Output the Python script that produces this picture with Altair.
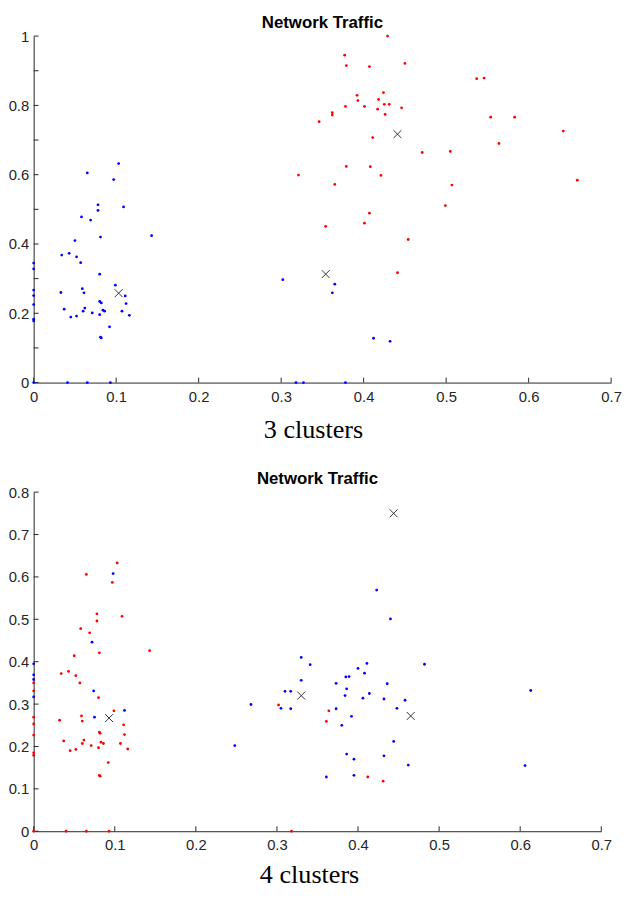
import altair as alt
import pandas as pd

# ---------------- Panel 1: 3 clusters ----------------
p1_blue_x = [0.078, 0.078, 0.109, 0.058, 0.069, 0.081, 0.143, 0.050, 0.034, 0.043,
             0.052, 0.057, 0.080, 0.099, 0.033, 0.059, 0.061, 0.080, 0.082, 0.111,
             0.112, 0.037, 0.062, 0.060, 0.045, 0.052, 0.071, 0.080, 0.084, 0.086,
             0.107, 0.116, 0.092, 0.081, 0.082, 0.065, 0.097, 0.103,
             0.0, 0.0, 0.0, 0.0, 0.0, 0.0, 0.0, 0.0,
             0.041, 0.065, 0.093, 0.318, 0.327, 0.378,
             0.302, 0.365, 0.362, 0.412, 0.432]
p1_blue_y = [0.513, 0.497, 0.507, 0.478, 0.469, 0.420, 0.424, 0.410, 0.368, 0.373,
             0.363, 0.346, 0.313, 0.281, 0.260, 0.271, 0.259, 0.234, 0.230, 0.250,
             0.228, 0.212, 0.215, 0.206, 0.189, 0.192, 0.201, 0.196, 0.209, 0.206,
             0.206, 0.194, 0.161, 0.131, 0.129, 0.605, 0.586, 0.632,
             0.345, 0.328, 0.267, 0.251, 0.225, 0.183, 0.178, 0.0,
             0.0, 0.0, 0.0, 0.0, 0.0, 0.0,
             0.297, 0.284, 0.259, 0.128, 0.119]
p1_red_x = [0.429, 0.377, 0.379, 0.407, 0.450, 0.537, 0.546, 0.392, 0.424, 0.393,
            0.418, 0.378, 0.401, 0.425, 0.431, 0.417, 0.446, 0.426, 0.362, 0.362,
            0.346, 0.554, 0.583, 0.642, 0.411, 0.564, 0.471, 0.505, 0.379, 0.408,
            0.321, 0.421, 0.659, 0.365, 0.507, 0.499, 0.407, 0.354, 0.401, 0.454,
            0.441]
p1_red_y = [1.000, 0.945, 0.915, 0.912, 0.921, 0.877, 0.879, 0.829, 0.837, 0.814,
            0.817, 0.797, 0.797, 0.803, 0.803, 0.789, 0.793, 0.774, 0.779, 0.772,
            0.753, 0.766, 0.766, 0.726, 0.707, 0.690, 0.664, 0.667, 0.624, 0.623,
            0.599, 0.598, 0.584, 0.572, 0.570, 0.511, 0.489, 0.451, 0.460, 0.413,
            0.317]
p1_cent_x = [0.103, 0.441, 0.354]
p1_cent_y = [0.258, 0.717, 0.313]

# ---------------- Panel 2: 4 clusters ----------------
p2_red_x = [0.050, 0.081, 0.143, 0.034, 0.043, 0.052, 0.057, 0.080, 0.099, 0.032,
            0.059, 0.060, 0.081, 0.082, 0.111, 0.112, 0.037, 0.062, 0.060, 0.045,
            0.052, 0.071, 0.080, 0.083, 0.086, 0.107, 0.116, 0.092, 0.081, 0.082,
            0.0, 0.0, 0.0, 0.0, 0.0, 0.0, 0.0, 0.0,
            0.040, 0.065, 0.093, 0.318,
            0.302, 0.065, 0.103, 0.097, 0.078, 0.078, 0.109, 0.058, 0.069,
            0.364, 0.361, 0.412, 0.431]
p2_red_y = [0.414, 0.421, 0.426, 0.372, 0.377, 0.367, 0.350, 0.315, 0.284, 0.262,
            0.272, 0.260, 0.234, 0.231, 0.251, 0.228, 0.213, 0.215, 0.207, 0.190,
            0.193, 0.202, 0.197, 0.210, 0.207, 0.207, 0.194, 0.162, 0.132, 0.130,
            0.350, 0.331, 0.269, 0.253, 0.227, 0.185, 0.179, 0.0,
            0.0, 0.0, 0.0, 0.0,
            0.298, 0.606, 0.633, 0.587, 0.513, 0.496, 0.507, 0.478, 0.468,
            0.284, 0.259, 0.128, 0.118]
p2_blue_x = [0.0, 0.0, 0.0, 0.0,
             0.074, 0.075, 0.112, 0.098, 0.072,
             0.248, 0.268, 0.305, 0.310, 0.317, 0.317, 0.330, 0.330, 0.341,
             0.423, 0.440,
             0.400, 0.411, 0.482, 0.408, 0.385, 0.389, 0.373, 0.436, 0.386, 0.384,
             0.414, 0.406, 0.432, 0.458, 0.613, 0.373, 0.448, 0.392, 0.380, 0.444,
             0.386, 0.395, 0.432, 0.462, 0.606, 0.361, 0.395]
p2_blue_y = [0.395, 0.369, 0.358, 0.317,
             0.331, 0.269, 0.285, 0.608, 0.446,
             0.202, 0.299, 0.290, 0.330, 0.330, 0.289, 0.410, 0.356, 0.393,
             0.569, 0.501,
             0.384, 0.396, 0.394, 0.373, 0.364, 0.365, 0.349, 0.348, 0.336, 0.320,
             0.325, 0.314, 0.312, 0.309, 0.332, 0.289, 0.290, 0.271, 0.250, 0.212,
             0.182, 0.170, 0.178, 0.156, 0.155, 0.128, 0.132]
p2_cent_x = [0.093, 0.330, 0.465, 0.444]
p2_cent_y = [0.267, 0.320, 0.272, 0.750]

x_ticks = [0, 0.1, 0.2, 0.3, 0.4, 0.5, 0.6, 0.7]
p1_y_ticks = [0, 0.1, 0.2, 0.3, 0.4, 0.5, 0.6, 0.7, 0.8, 0.9, 1.0]
p2_y_ticks = [0, 0.1, 0.2, 0.3, 0.4, 0.5, 0.6, 0.7, 0.8]
captions = ["3 clusters", "4 clusters"]
title_text = "Network Traffic"

AX = "#262626"


def panel(bx, by, rx, ry, cx, cy, yticks, ymax, w, h, caption, title_x, cap_pad):
    pts = pd.DataFrame({"x": bx + rx, "y": by + ry,
                        "c": ["b"] * len(bx) + ["r"] * len(rx)})
    cents = pd.DataFrame({"x": cx, "y": cy})
    xt = pd.DataFrame({"x": x_ticks})
    yt = pd.DataFrame({"y": yticks})
    xs = alt.Scale(domain=[0, 0.7], nice=False, zero=False)
    ys = alt.Scale(domain=[0, ymax], nice=False, zero=False)

    xaxis = alt.Axis(values=x_ticks, format="~g", ticks=False, grid=False,
                     domainColor=AX, domainWidth=1,
                     labelFont="Liberation Sans", labelFontSize=15, labelColor=AX,
                     labelPadding=7, labelFlush=False, labelOverlap=False,
                     title=caption, titleFont="Liberation Serif", titleFontSize=26.5,
                     titleFontWeight="normal", titleColor="black", titlePadding=cap_pad,
                     titleX=title_x)
    yaxis = alt.Axis(values=yticks, format="~g", ticks=False, grid=False,
                     domainColor=AX, domainWidth=1,
                     labelFont="Liberation Sans", labelFontSize=15, labelColor=AX,
                     labelPadding=5, labelFlush=False, labelOverlap=False,
                     title=None)

    base_pts = alt.Chart(pts).mark_circle(size=8, opacity=1).encode(
        x=alt.X("x:Q", scale=xs, axis=xaxis),
        y=alt.Y("y:Q", scale=ys, axis=yaxis),
        color=alt.Color("c:N", scale=alt.Scale(domain=["b", "r"],
                                               range=["#0000FF", "#FF0000"]),
                        legend=None),
    )
    cent = alt.Chart(cents).mark_point(
        shape="M-1,-1L1,1M-1,1L1,-1", size=64, filled=False,
        color="#333333", strokeWidth=1, opacity=1
    ).encode(
        x=alt.X("x:Q", scale=xs),
        y=alt.Y("y:Q", scale=ys),
    )
    xtick = alt.Chart(xt).mark_rule(color=AX, strokeWidth=1).encode(
        x=alt.X("x:Q", scale=xs),
        y=alt.value(h), y2=alt.value(h - 5),
    )
    ytick = alt.Chart(yt).mark_rule(color=AX, strokeWidth=1).encode(
        y=alt.Y("y:Q", scale=ys),
        x=alt.value(0), x2=alt.value(5),
    )
    return alt.layer(xtick, ytick, base_pts, cent).properties(
        width=w, height=h,
        title=alt.TitleParams(text=title_text, font="Liberation Sans",
                              fontSize=17, fontWeight="bold", color="black",
                              offset=-3, anchor="middle", frame="group"),
    )


p1 = panel(p1_blue_x, p1_blue_y, p1_red_x, p1_red_y, p1_cent_x, p1_cent_y,
           p1_y_ticks, 1.0, 585, 351, captions[0], 283, 12.5)
p2 = panel(p2_blue_x, p2_blue_y, p2_red_x, p2_red_y, p2_cent_x, p2_cent_y,
           p2_y_ticks, 0.8, 575, 343.5, captions[1], 279, 9)

chart = alt.vconcat(p1, p2, spacing=28).properties(
    padding={"left": 0, "top": 0.7, "right": 0, "bottom": 0},
    background="white"
).configure_view(stroke=None)

chart.save("out.html", embed_options={"renderer": "svg", "actions": False})
